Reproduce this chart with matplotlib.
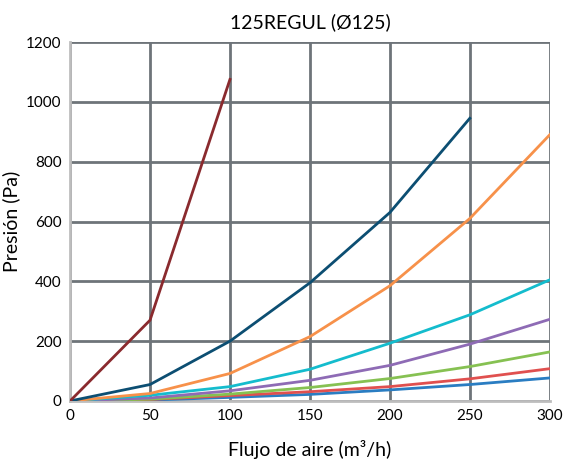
import matplotlib
matplotlib.use("Agg")
import matplotlib.pyplot as plt

plt.rcParams["font.family"] = ["Lato", "DejaVu Sans"]

# caudal (m3/h)
flow = [0, 50, 100, 150, 200, 250, 300]

# presion (Pa) per curve, top to bottom
p_darkred = [0, 270, 1075]
p_navy = [0, 55, 200, 395, 630, 945]
p_orange = [0, 25, 92, 215, 385, 610, 890]
p_cyan = [0, 19, 48, 106, 193, 288, 405]
p_purple = [0, 10, 34, 69, 119, 190, 273]
p_green = [0, 6, 23, 45, 75, 115, 164]
p_red = [0, 5, 18, 31, 48, 74, 108]
p_blue = [0, 3, 12, 22, 37, 55, 77]

series = [
    (p_blue, "#2a7dc2"),
    (p_red, "#e0504f"),
    (p_green, "#86c152"),
    (p_purple, "#8e6bb5"),
    (p_cyan, "#14bccd"),
    (p_orange, "#f7914a"),
    (p_navy, "#0c4e72"),
    (p_darkred, "#8a2a2e"),
]

fig = plt.figure(figsize=(5.65, 4.59), dpi=100)
ax = fig.add_axes([0.124, 0.1264, 0.849, 0.782])

for vals, col in series:
    ax.plot(flow[:len(vals)], vals, color=col, lw=2, zorder=3)

ax.set_xlim(0, 300)
ax.set_ylim(0, 1200)
ax.set_xticks(range(0, 301, 50))
ax.set_yticks(range(0, 1201, 200))
ax.grid(True, color="#6e7479", lw=2, zorder=1)
ax.tick_params(length=0, labelsize=11, pad=6)

for side in ["top", "right"]:
    ax.spines[side].set_visible(False)
for side in ["left", "bottom"]:
    ax.spines[side].set_color("#bdbdbd")
    ax.spines[side].set_linewidth(2)
    ax.spines[side].set_zorder(2)

ax.set_xlabel("Flujo de aire (m³/h)", fontsize=14, labelpad=12)
ax.set_ylabel("Presión (Pa)", fontsize=14, labelpad=4)
ax.yaxis.set_label_coords(-0.105, 0.5)
ax.set_title("125REGUL (Ø125)", fontsize=14, pad=10)

fig.savefig("out.png", dpi=100)
